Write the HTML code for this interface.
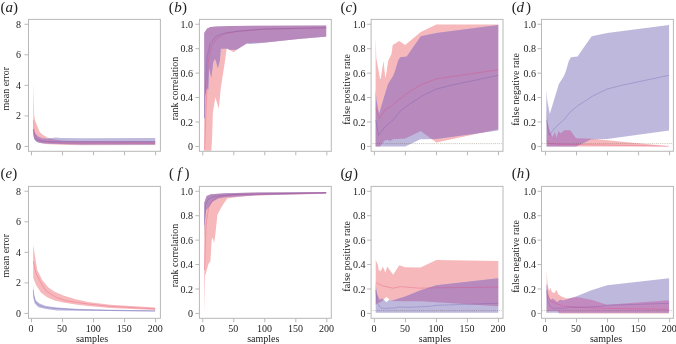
<!DOCTYPE html>
<html><head><meta charset="utf-8"><title>figure</title>
<style>
html,body{margin:0;padding:0;background:#fff;}
body{width:676px;height:344px;overflow:hidden;}
svg{display:block;}
.t{font-family:"Liberation Serif",serif;font-size:10px;fill:#222;}
.pl{font-family:"Liberation Serif",serif;font-size:15px;fill:#222;}
.it{font-style:italic;}
</style></head><body>
<svg width="676" height="344" viewBox="0 0 676 344">
<rect width="676" height="344" fill="#fff"/>
<defs>
<clipPath id="c00"><rect x="29.00" y="19.90" width="130.90" height="130.90"/></clipPath>
<clipPath id="c01"><rect x="29.00" y="186.90" width="130.90" height="130.90"/></clipPath>
<clipPath id="c10"><rect x="199.90" y="19.90" width="130.90" height="130.90"/></clipPath>
<clipPath id="c11"><rect x="199.90" y="186.90" width="130.90" height="130.90"/></clipPath>
<clipPath id="c20"><rect x="371.60" y="19.90" width="130.90" height="130.90"/></clipPath>
<clipPath id="c21"><rect x="371.60" y="186.90" width="130.90" height="130.90"/></clipPath>
<clipPath id="c30"><rect x="542.00" y="19.90" width="130.90" height="130.90"/></clipPath>
<clipPath id="c31"><rect x="542.00" y="186.90" width="130.90" height="130.90"/></clipPath>
</defs>
<g clip-path="url(#c00)">
<clipPath id="k1"><polygon points="33.40,83.00 33.90,104.00 34.20,116.00 35.20,120.70 36.80,124.80 38.50,129.00 39.75,132.00 42.70,134.80 47.70,137.75 54.30,139.40 63.50,140.70 82.00,141.00 155.20,141.00 155.20,145.10 82.00,145.20 60.00,144.80 45.00,144.00 38.00,142.50 35.00,140.00 33.30,135.00"/></clipPath>
<polygon points="33.40,83.00 33.90,104.00 34.20,116.00 35.20,120.70 36.80,124.80 38.50,129.00 39.75,132.00 42.70,134.80 47.70,137.75 54.30,139.40 63.50,140.70 82.00,141.00 155.20,141.00 155.20,145.10 82.00,145.20 60.00,144.80 45.00,144.00 38.00,142.50 35.00,140.00 33.30,135.00" fill="#f6b8ba"/>
<polygon points="33.30,128.00 35.00,133.00 38.00,136.50 42.00,138.30 47.00,138.80 52.00,138.00 56.00,137.60 60.00,137.90 82.00,138.20 155.20,138.10 155.20,144.60 82.00,144.40 50.00,143.70 40.00,143.00 36.00,141.50 34.00,139.00 33.30,130.00" fill="#bdb8dc"/>
<g clip-path="url(#k1)"><polygon points="33.30,128.00 35.00,133.00 38.00,136.50 42.00,138.30 47.00,138.80 52.00,138.00 56.00,137.60 60.00,137.90 82.00,138.20 155.20,138.10 155.20,144.60 82.00,144.40 50.00,143.70 40.00,143.00 36.00,141.50 34.00,139.00 33.30,130.00" fill="#b889bc"/></g>
<polyline points="33.30,120.00 34.50,134.00 37.00,138.50 42.00,141.00 50.00,142.30 63.00,143.00 155.20,143.20" fill="none" stroke="#e23c74" stroke-width="0.8" stroke-opacity="0.36" stroke-linejoin="round"/>
<polyline points="33.30,129.00 34.00,137.00 36.00,139.50 40.00,141.00 50.00,141.60 82.00,141.80 155.20,141.80" fill="none" stroke="#5a50aa" stroke-width="0.8" stroke-opacity="0.36" stroke-linejoin="round"/>
</g>
<g clip-path="url(#c10)">
<clipPath id="k2"><polygon points="204.20,33.00 207.10,28.40 210.40,27.00 216.20,26.60 231.10,26.10 254.00,25.75 326.20,25.40 326.20,36.50 298.60,39.10 264.40,42.50 248.30,43.20 246.70,43.40 236.70,49.70 233.75,52.20 229.20,49.70 226.70,48.70 225.80,54.70 224.85,62.00 220.80,88.00 218.75,108.80 215.40,97.20 212.90,112.00 212.00,140.00 211.25,152.00 204.20,152.00"/></clipPath>
<polygon points="204.20,33.00 207.10,28.40 210.40,27.00 216.20,26.60 231.10,26.10 254.00,25.75 326.20,25.40 326.20,36.50 298.60,39.10 264.40,42.50 248.30,43.20 246.70,43.40 236.70,49.70 233.75,52.20 229.20,49.70 226.70,48.70 225.80,54.70 224.85,62.00 220.80,88.00 218.75,108.80 215.40,97.20 212.90,112.00 212.00,140.00 211.25,152.00 204.20,152.00" fill="#f6b8ba"/>
<polygon points="204.20,33.00 207.10,28.40 210.40,27.00 216.20,26.60 231.10,26.10 254.00,25.75 326.20,25.40 326.20,36.70 298.60,39.10 264.40,42.70 250.00,44.00 246.70,43.40 236.70,49.70 229.20,49.70 227.50,48.40 220.80,48.80 220.00,58.80 219.50,62.00 217.80,68.20 216.20,62.00 215.00,58.80 213.30,62.00 211.25,78.00 209.20,68.00 208.30,90.00 207.00,88.00 205.00,96.30 204.60,118.70 204.20,118.70" fill="#bdb8dc"/>
<g clip-path="url(#k2)"><polygon points="204.20,33.00 207.10,28.40 210.40,27.00 216.20,26.60 231.10,26.10 254.00,25.75 326.20,25.40 326.20,36.70 298.60,39.10 264.40,42.70 250.00,44.00 246.70,43.40 236.70,49.70 229.20,49.70 227.50,48.40 220.80,48.80 220.00,58.80 219.50,62.00 217.80,68.20 216.20,62.00 215.00,58.80 213.30,62.00 211.25,78.00 209.20,68.00 208.30,90.00 207.00,88.00 205.00,96.30 204.60,118.70 204.20,118.70" fill="#b889bc"/></g>
<polyline points="204.60,150.00 206.00,110.00 208.20,62.00 211.50,46.00 217.10,38.00 225.40,33.60 238.20,31.40 264.40,29.20 326.20,27.80" fill="none" stroke="#e23c74" stroke-width="0.8" stroke-opacity="0.36" stroke-linejoin="round"/>
<polyline points="204.40,118.00 205.20,90.00 207.00,58.00 210.00,44.00 216.10,36.10 224.20,33.10 238.20,31.10 264.40,29.00 326.20,27.70" fill="none" stroke="#5a50aa" stroke-width="0.8" stroke-opacity="0.36" stroke-linejoin="round"/>
</g>
<g clip-path="url(#c20)">
<clipPath id="k3"><polygon points="375.60,36.70 376.30,58.00 380.10,79.00 380.70,79.00 383.50,61.10 385.40,78.50 387.00,69.00 388.20,60.70 391.50,54.00 392.70,44.90 399.30,41.10 405.10,44.90 420.80,32.10 436.30,24.60 498.30,24.60 498.30,129.30 436.30,142.50 420.75,130.90 405.30,138.50 392.50,139.20 390.60,141.10 388.00,140.00 386.00,140.00 384.00,141.00 380.00,146.40 375.60,146.40"/></clipPath>
<polygon points="375.60,36.70 376.30,58.00 380.10,79.00 380.70,79.00 383.50,61.10 385.40,78.50 387.00,69.00 388.20,60.70 391.50,54.00 392.70,44.90 399.30,41.10 405.10,44.90 420.80,32.10 436.30,24.60 498.30,24.60 498.30,129.30 436.30,142.50 420.75,130.90 405.30,138.50 392.50,139.20 390.60,141.10 388.00,140.00 386.00,140.00 384.00,141.00 380.00,146.40 375.60,146.40" fill="#f6b8ba"/>
<polygon points="375.60,90.00 376.40,100.00 379.00,114.00 384.10,97.00 385.40,92.80 388.10,84.10 393.10,76.00 394.80,72.00 398.10,60.70 400.20,57.30 406.80,56.50 412.60,48.00 420.90,36.20 436.40,33.10 498.30,25.00 498.30,130.40 436.30,138.90 420.40,139.25 405.30,146.40 375.60,146.40" fill="#bdb8dc"/>
<g clip-path="url(#k3)"><polygon points="375.60,90.00 376.40,100.00 379.00,114.00 384.10,97.00 385.40,92.80 388.10,84.10 393.10,76.00 394.80,72.00 398.10,60.70 400.20,57.30 406.80,56.50 412.60,48.00 420.90,36.20 436.40,33.10 498.30,25.00 498.30,130.40 436.30,138.90 420.40,139.25 405.30,146.40 375.60,146.40" fill="#b889bc"/></g>
<polyline points="375.80,108.50 379.50,118.50 385.30,109.30 391.20,106.40 397.00,101.00 402.80,96.80 405.30,94.50 420.30,85.00 436.40,78.80 498.30,69.80" fill="none" stroke="#e23c74" stroke-width="0.8" stroke-opacity="0.36" stroke-linejoin="round"/>
<polyline points="375.80,120.00 378.40,135.40 384.00,128.00 388.25,124.00 392.80,120.20 399.50,111.80 407.80,105.20 422.00,96.00 436.40,89.00 450.50,85.40 498.30,75.30" fill="none" stroke="#5a50aa" stroke-width="0.8" stroke-opacity="0.36" stroke-linejoin="round"/>
<line x1="371.60" y1="143.60" x2="502.50" y2="143.60" stroke="rgba(95,90,60,0.42)" stroke-width="0.9" stroke-dasharray="0.9,1.0"/>
</g>
<g clip-path="url(#c30)">
<clipPath id="k4"><polygon points="546.80,110.00 547.50,122.00 549.50,130.30 552.40,137.00 554.90,132.00 556.50,137.80 558.60,131.10 560.60,133.20 564.40,130.30 570.20,130.30 576.00,138.20 592.00,138.80 668.90,146.30 668.90,146.50 546.80,146.50"/></clipPath>
<polygon points="546.80,110.00 547.50,122.00 549.50,130.30 552.40,137.00 554.90,132.00 556.50,137.80 558.60,131.10 560.60,133.20 564.40,130.30 570.20,130.30 576.00,138.20 592.00,138.80 668.90,146.30 668.90,146.50 546.80,146.50" fill="#f6b8ba"/>
<polygon points="546.40,90.00 547.20,100.00 549.80,114.00 554.90,97.00 556.20,92.80 558.90,84.10 563.90,76.00 565.60,72.00 568.90,60.70 571.00,57.30 577.60,56.50 583.40,48.00 591.70,36.20 607.20,33.10 669.10,25.00 669.10,130.40 607.10,138.90 591.20,139.25 576.10,146.40 546.40,146.40" fill="#bdb8dc"/>
<g clip-path="url(#k4)"><polygon points="546.40,90.00 547.20,100.00 549.80,114.00 554.90,97.00 556.20,92.80 558.90,84.10 563.90,76.00 565.60,72.00 568.90,60.70 571.00,57.30 577.60,56.50 583.40,48.00 591.70,36.20 607.20,33.10 669.10,25.00 669.10,130.40 607.10,138.90 591.20,139.25 576.10,146.40 546.40,146.40" fill="#c088bc"/></g>
<polyline points="546.80,140.00 548.50,143.50 560.00,144.30 592.00,144.80 668.90,146.20" fill="none" stroke="#e23c74" stroke-width="0.8" stroke-opacity="0.36" stroke-linejoin="round"/>
<polyline points="546.60,120.00 549.20,135.40 554.80,128.00 559.05,124.00 563.60,120.20 570.30,111.80 578.60,105.20 592.80,96.00 607.20,89.00 621.30,85.40 669.10,75.30" fill="none" stroke="#5a50aa" stroke-width="0.8" stroke-opacity="0.36" stroke-linejoin="round"/>
<line x1="542.00" y1="143.60" x2="672.90" y2="143.60" stroke="rgba(95,90,60,0.42)" stroke-width="0.9" stroke-dasharray="0.9,1.0"/>
</g>
<g clip-path="url(#c01)">
<clipPath id="k5"><polygon points="33.20,245.00 36.00,262.20 37.20,270.00 42.20,280.00 48.40,287.40 54.60,291.70 63.30,295.50 75.70,299.20 88.10,301.90 110.00,304.80 155.20,307.60 155.20,310.10 110.00,307.90 88.10,306.00 75.70,304.50 63.30,302.50 54.60,300.40 47.10,297.30 40.90,292.40 36.00,285.00 33.20,277.50"/></clipPath>
<polygon points="33.20,245.00 36.00,262.20 37.20,270.00 42.20,280.00 48.40,287.40 54.60,291.70 63.30,295.50 75.70,299.20 88.10,301.90 110.00,304.80 155.20,307.60 155.20,310.10 110.00,307.90 88.10,306.00 75.70,304.50 63.30,302.50 54.60,300.40 47.10,297.30 40.90,292.40 36.00,285.00 33.20,277.50" fill="#f6b8ba"/>
<polygon points="33.20,284.50 34.10,295.00 35.90,300.40 39.70,303.50 45.90,306.00 57.10,307.60 75.70,308.80 110.00,309.80 155.20,310.30 155.20,311.60 110.00,311.10 57.10,310.40 45.90,309.10 38.40,307.30 34.70,303.60 33.20,296.70" fill="#bdb8dc"/>
<g clip-path="url(#k5)"><polygon points="33.20,284.50 34.10,295.00 35.90,300.40 39.70,303.50 45.90,306.00 57.10,307.60 75.70,308.80 110.00,309.80 155.20,310.30 155.20,311.60 110.00,311.10 57.10,310.40 45.90,309.10 38.40,307.30 34.70,303.60 33.20,296.70" fill="#b889bc"/></g>
<polyline points="33.20,261.20 36.00,273.20 41.10,283.30 46.10,291.00 56.20,297.40 66.20,300.80 88.00,304.00 110.00,306.30 155.20,308.80" fill="none" stroke="#e23c74" stroke-width="0.8" stroke-opacity="0.36" stroke-linejoin="round"/>
<polyline points="33.20,290.00 34.40,299.50 37.00,304.00 42.00,306.50 50.00,308.00 75.00,309.70 110.00,310.50 155.20,311.00" fill="none" stroke="#5a50aa" stroke-width="0.8" stroke-opacity="0.36" stroke-linejoin="round"/>
</g>
<g clip-path="url(#c11)">
<clipPath id="k6"><polygon points="204.30,202.60 206.60,196.00 210.80,194.30 224.90,193.30 256.00,192.60 326.20,192.00 326.20,193.70 256.00,195.60 237.30,197.00 227.30,198.50 223.20,204.20 219.90,210.00 217.40,215.00 215.40,234.00 214.10,243.30 212.70,237.70 211.70,240.00 210.40,261.30 208.60,263.80 205.00,276.00 204.20,313.30"/></clipPath>
<polygon points="204.30,202.60 206.60,196.00 210.80,194.30 224.90,193.30 256.00,192.60 326.20,192.00 326.20,193.70 256.00,195.60 237.30,197.00 227.30,198.50 223.20,204.20 219.90,210.00 217.40,215.00 215.40,234.00 214.10,243.30 212.70,237.70 211.70,240.00 210.40,261.30 208.60,263.80 205.00,276.00 204.20,313.30" fill="#f6b8ba"/>
<polygon points="204.30,202.60 206.60,196.00 210.80,194.30 224.90,193.30 256.00,192.60 326.20,192.00 326.20,193.60 256.00,195.30 237.30,196.40 224.90,197.25 218.20,198.50 212.40,201.80 208.30,207.70 206.20,210.00 204.70,221.00 204.30,238.00" fill="#bdb8dc"/>
<g clip-path="url(#k6)"><polygon points="204.30,202.60 206.60,196.00 210.80,194.30 224.90,193.30 256.00,192.60 326.20,192.00 326.20,193.60 256.00,195.30 237.30,196.40 224.90,197.25 218.20,198.50 212.40,201.80 208.30,207.70 206.20,210.00 204.70,221.00 204.30,238.00" fill="#b889bc"/></g>
<polyline points="204.50,270.00 206.00,225.00 208.50,208.00 212.00,201.00 218.00,197.00 228.00,195.30 240.00,194.50 326.20,192.90" fill="none" stroke="#e23c74" stroke-width="0.8" stroke-opacity="0.36" stroke-linejoin="round"/>
<polyline points="204.40,225.00 205.50,205.00 208.00,199.50 212.00,197.00 220.00,195.50 240.00,194.30 326.20,192.80" fill="none" stroke="#5a50aa" stroke-width="0.8" stroke-opacity="0.36" stroke-linejoin="round"/>
</g>
<g clip-path="url(#c21)">
<clipPath id="k7"><polygon points="375.70,260.00 377.80,264.40 379.00,271.80 379.90,269.30 380.70,271.40 382.80,266.40 385.30,272.60 387.30,266.40 393.10,274.70 399.30,265.20 405.10,267.25 420.50,267.40 436.40,260.00 498.30,261.00 498.30,306.30 436.40,302.30 420.80,301.30 405.10,301.30 392.70,301.00 389.40,299.60 386.50,296.80 383.70,299.60 381.00,302.00 378.00,303.00 375.70,305.00"/></clipPath>
<polygon points="375.70,260.00 377.80,264.40 379.00,271.80 379.90,269.30 380.70,271.40 382.80,266.40 385.30,272.60 387.30,266.40 393.10,274.70 399.30,265.20 405.10,267.25 420.50,267.40 436.40,260.00 498.30,261.00 498.30,306.30 436.40,302.30 420.80,301.30 405.10,301.30 392.70,301.00 389.40,299.60 386.50,296.80 383.70,299.60 381.00,302.00 378.00,303.00 375.70,305.00" fill="#f6b8ba"/>
<polygon points="375.70,282.00 376.30,290.00 377.20,294.50 379.80,300.00 381.50,298.50 383.70,299.80 386.50,302.30 389.20,299.80 392.50,300.50 405.20,296.40 420.60,290.20 436.30,285.20 498.30,278.20 498.30,312.80 375.70,312.80" fill="#bdb8dc"/>
<g clip-path="url(#k7)"><polygon points="375.70,282.00 376.30,290.00 377.20,294.50 379.80,300.00 381.50,298.50 383.70,299.80 386.50,302.30 389.20,299.80 392.50,300.50 405.20,296.40 420.60,290.20 436.30,285.20 498.30,278.20 498.30,312.80 375.70,312.80" fill="#b889bc"/></g>
<polyline points="375.70,282.20 378.00,283.80 384.10,286.20 393.10,288.20 400.20,286.60 420.00,288.20 436.40,287.80 498.30,287.20" fill="none" stroke="#e23c74" stroke-width="0.8" stroke-opacity="0.36" stroke-linejoin="round"/>
<polyline points="375.70,290.00 377.00,301.80 379.50,306.80 382.80,308.40 396.00,308.00 396.90,307.10 410.20,307.30 430.40,306.30 436.40,305.30 498.30,303.30" fill="none" stroke="#5a50aa" stroke-width="0.8" stroke-opacity="0.36" stroke-linejoin="round"/>
<line x1="371.60" y1="310.60" x2="502.50" y2="310.60" stroke="rgba(95,90,60,0.42)" stroke-width="0.9" stroke-dasharray="0.9,1.0"/>
</g>
<g clip-path="url(#c31)">
<clipPath id="k8"><polygon points="546.70,270.00 547.50,284.00 549.00,291.00 550.30,287.70 552.00,292.25 554.40,293.00 556.50,289.75 558.20,294.30 561.90,296.80 566.90,298.50 576.80,297.00 592.30,299.90 606.80,304.70 668.90,300.30 668.90,313.50 559.00,313.50 557.80,311.00 547.80,311.00 546.70,313.50"/></clipPath>
<polygon points="546.70,270.00 547.50,284.00 549.00,291.00 550.30,287.70 552.00,292.25 554.40,293.00 556.50,289.75 558.20,294.30 561.90,296.80 566.90,298.50 576.80,297.00 592.30,299.90 606.80,304.70 668.90,300.30 668.90,313.50 559.00,313.50 557.80,311.00 547.80,311.00 546.70,313.50" fill="#f6b8ba"/>
<polygon points="546.50,282.00 547.10,290.00 548.00,294.50 550.60,300.00 552.30,298.50 554.50,299.80 557.30,302.30 560.00,299.80 563.30,300.50 576.00,296.40 591.40,290.20 607.10,285.20 669.10,278.20 669.10,312.80 546.50,312.80" fill="#bdb8dc"/>
<g clip-path="url(#k8)"><polygon points="546.50,282.00 547.10,290.00 548.00,294.50 550.60,300.00 552.30,298.50 554.50,299.80 557.30,302.30 560.00,299.80 563.30,300.50 576.00,296.40 591.40,290.20 607.10,285.20 669.10,278.20 669.10,312.80 546.50,312.80" fill="#c38abf"/></g>
<polyline points="546.80,285.00 548.20,296.00 550.30,301.00 553.60,302.25 557.00,303.90 562.70,306.00 575.00,307.25 598.00,308.00 606.40,308.30 668.90,309.30" fill="none" stroke="#e23c74" stroke-width="0.8" stroke-opacity="0.36" stroke-linejoin="round"/>
<polyline points="546.50,290.00 547.80,301.80 550.30,306.80 553.60,308.40 566.80,308.00 567.70,307.10 581.00,307.30 601.20,306.30 607.20,305.30 669.10,303.30" fill="none" stroke="#5a50aa" stroke-width="0.8" stroke-opacity="0.36" stroke-linejoin="round"/>
<line x1="542.00" y1="310.60" x2="672.90" y2="310.60" stroke="rgba(95,90,60,0.42)" stroke-width="0.9" stroke-dasharray="0.9,1.0"/>
</g>
<rect x="28.50" y="19.40" width="131.90" height="131.90" fill="none" stroke="#b8b8b8" stroke-width="1"/>
<line x1="31.50" y1="151.30" x2="31.50" y2="155.30" stroke="#b8b8b8" stroke-width="1"/>
<line x1="62.52" y1="151.30" x2="62.52" y2="155.30" stroke="#b8b8b8" stroke-width="1"/>
<line x1="93.54" y1="151.30" x2="93.54" y2="155.30" stroke="#b8b8b8" stroke-width="1"/>
<line x1="124.56" y1="151.30" x2="124.56" y2="155.30" stroke="#b8b8b8" stroke-width="1"/>
<line x1="155.58" y1="151.30" x2="155.58" y2="155.30" stroke="#b8b8b8" stroke-width="1"/>
<line x1="24.50" y1="146.41" x2="28.50" y2="146.41" stroke="#b8b8b8" stroke-width="1"/>
<text x="21.10" y="150.01" text-anchor="end" class="t">0</text>
<line x1="24.50" y1="115.88" x2="28.50" y2="115.88" stroke="#b8b8b8" stroke-width="1"/>
<text x="21.10" y="119.48" text-anchor="end" class="t">2</text>
<line x1="24.50" y1="85.35" x2="28.50" y2="85.35" stroke="#b8b8b8" stroke-width="1"/>
<text x="21.10" y="88.95" text-anchor="end" class="t">4</text>
<line x1="24.50" y1="54.81" x2="28.50" y2="54.81" stroke="#b8b8b8" stroke-width="1"/>
<text x="21.10" y="58.41" text-anchor="end" class="t">6</text>
<line x1="24.50" y1="24.28" x2="28.50" y2="24.28" stroke="#b8b8b8" stroke-width="1"/>
<text x="21.10" y="27.88" text-anchor="end" class="t">8</text>
<text transform="translate(9.00,88.70) rotate(-90)" text-anchor="middle" class="t">mean error</text>
<text x="0.58" y="11.60" class="pl">(</text>
<text x="9.25" y="11.60" class="pl it" text-anchor="middle">a</text>
<text x="12.90" y="11.60" class="pl">)</text>
<rect x="199.40" y="19.40" width="131.90" height="131.90" fill="none" stroke="#b8b8b8" stroke-width="1"/>
<line x1="202.75" y1="151.30" x2="202.75" y2="155.30" stroke="#b8b8b8" stroke-width="1"/>
<line x1="233.77" y1="151.30" x2="233.77" y2="155.30" stroke="#b8b8b8" stroke-width="1"/>
<line x1="264.79" y1="151.30" x2="264.79" y2="155.30" stroke="#b8b8b8" stroke-width="1"/>
<line x1="295.81" y1="151.30" x2="295.81" y2="155.30" stroke="#b8b8b8" stroke-width="1"/>
<line x1="326.83" y1="151.30" x2="326.83" y2="155.30" stroke="#b8b8b8" stroke-width="1"/>
<line x1="195.40" y1="146.41" x2="199.40" y2="146.41" stroke="#b8b8b8" stroke-width="1"/>
<text x="193.00" y="150.01" text-anchor="end" class="t">0</text>
<line x1="195.40" y1="121.98" x2="199.40" y2="121.98" stroke="#b8b8b8" stroke-width="1"/>
<text x="193.00" y="125.58" text-anchor="end" class="t">0.2</text>
<line x1="195.40" y1="97.56" x2="199.40" y2="97.56" stroke="#b8b8b8" stroke-width="1"/>
<text x="193.00" y="101.16" text-anchor="end" class="t">0.4</text>
<line x1="195.40" y1="73.13" x2="199.40" y2="73.13" stroke="#b8b8b8" stroke-width="1"/>
<text x="193.00" y="76.73" text-anchor="end" class="t">0.6</text>
<line x1="195.40" y1="48.71" x2="199.40" y2="48.71" stroke="#b8b8b8" stroke-width="1"/>
<text x="193.00" y="52.31" text-anchor="end" class="t">0.8</text>
<line x1="195.40" y1="24.28" x2="199.40" y2="24.28" stroke="#b8b8b8" stroke-width="1"/>
<text x="193.00" y="27.88" text-anchor="end" class="t">1.0</text>
<text transform="translate(178.20,88.50) rotate(-90)" text-anchor="middle" class="t">rank correlation</text>
<text x="168.83" y="11.60" class="pl">(</text>
<text x="177.88" y="11.60" class="pl it" text-anchor="middle">b</text>
<text x="181.90" y="11.60" class="pl">)</text>
<rect x="371.10" y="19.40" width="131.90" height="131.90" fill="none" stroke="#b8b8b8" stroke-width="1"/>
<line x1="374.40" y1="151.30" x2="374.40" y2="155.30" stroke="#b8b8b8" stroke-width="1"/>
<line x1="405.42" y1="151.30" x2="405.42" y2="155.30" stroke="#b8b8b8" stroke-width="1"/>
<line x1="436.44" y1="151.30" x2="436.44" y2="155.30" stroke="#b8b8b8" stroke-width="1"/>
<line x1="467.46" y1="151.30" x2="467.46" y2="155.30" stroke="#b8b8b8" stroke-width="1"/>
<line x1="498.48" y1="151.30" x2="498.48" y2="155.30" stroke="#b8b8b8" stroke-width="1"/>
<line x1="367.10" y1="146.41" x2="371.10" y2="146.41" stroke="#b8b8b8" stroke-width="1"/>
<text x="365.40" y="150.01" text-anchor="end" class="t">0</text>
<line x1="367.10" y1="121.98" x2="371.10" y2="121.98" stroke="#b8b8b8" stroke-width="1"/>
<text x="365.40" y="125.58" text-anchor="end" class="t">0.2</text>
<line x1="367.10" y1="97.56" x2="371.10" y2="97.56" stroke="#b8b8b8" stroke-width="1"/>
<text x="365.40" y="101.16" text-anchor="end" class="t">0.4</text>
<line x1="367.10" y1="73.13" x2="371.10" y2="73.13" stroke="#b8b8b8" stroke-width="1"/>
<text x="365.40" y="76.73" text-anchor="end" class="t">0.6</text>
<line x1="367.10" y1="48.71" x2="371.10" y2="48.71" stroke="#b8b8b8" stroke-width="1"/>
<text x="365.40" y="52.31" text-anchor="end" class="t">0.8</text>
<line x1="367.10" y1="24.28" x2="371.10" y2="24.28" stroke="#b8b8b8" stroke-width="1"/>
<text x="365.40" y="27.88" text-anchor="end" class="t">1.0</text>
<text transform="translate(349.50,89.40) rotate(-90)" text-anchor="middle" class="t">false positive rate</text>
<text x="340.58" y="11.60" class="pl">(</text>
<text x="348.80" y="11.60" class="pl it" text-anchor="middle">c</text>
<text x="352.00" y="11.60" class="pl">)</text>
<rect x="541.50" y="19.40" width="131.90" height="131.90" fill="none" stroke="#b8b8b8" stroke-width="1"/>
<line x1="545.50" y1="151.30" x2="545.50" y2="155.30" stroke="#b8b8b8" stroke-width="1"/>
<line x1="576.52" y1="151.30" x2="576.52" y2="155.30" stroke="#b8b8b8" stroke-width="1"/>
<line x1="607.54" y1="151.30" x2="607.54" y2="155.30" stroke="#b8b8b8" stroke-width="1"/>
<line x1="638.56" y1="151.30" x2="638.56" y2="155.30" stroke="#b8b8b8" stroke-width="1"/>
<line x1="669.58" y1="151.30" x2="669.58" y2="155.30" stroke="#b8b8b8" stroke-width="1"/>
<line x1="537.50" y1="146.41" x2="541.50" y2="146.41" stroke="#b8b8b8" stroke-width="1"/>
<text x="536.10" y="150.01" text-anchor="end" class="t">0</text>
<line x1="537.50" y1="121.98" x2="541.50" y2="121.98" stroke="#b8b8b8" stroke-width="1"/>
<text x="536.10" y="125.58" text-anchor="end" class="t">0.2</text>
<line x1="537.50" y1="97.56" x2="541.50" y2="97.56" stroke="#b8b8b8" stroke-width="1"/>
<text x="536.10" y="101.16" text-anchor="end" class="t">0.4</text>
<line x1="537.50" y1="73.13" x2="541.50" y2="73.13" stroke="#b8b8b8" stroke-width="1"/>
<text x="536.10" y="76.73" text-anchor="end" class="t">0.6</text>
<line x1="537.50" y1="48.71" x2="541.50" y2="48.71" stroke="#b8b8b8" stroke-width="1"/>
<text x="536.10" y="52.31" text-anchor="end" class="t">0.8</text>
<line x1="537.50" y1="24.28" x2="541.50" y2="24.28" stroke="#b8b8b8" stroke-width="1"/>
<text x="536.10" y="27.88" text-anchor="end" class="t">1.0</text>
<text transform="translate(519.30,89.40) rotate(-90)" text-anchor="middle" class="t">false negative rate</text>
<text x="511.68" y="11.60" class="pl">(</text>
<text x="520.30" y="11.60" class="pl it" text-anchor="middle">d</text>
<text x="525.90" y="11.60" class="pl">)</text>
<rect x="28.50" y="186.40" width="131.90" height="131.90" fill="none" stroke="#b8b8b8" stroke-width="1"/>
<line x1="31.50" y1="318.30" x2="31.50" y2="322.30" stroke="#b8b8b8" stroke-width="1"/>
<text x="31.10" y="331.50" text-anchor="middle" class="t">0</text>
<line x1="62.52" y1="318.30" x2="62.52" y2="322.30" stroke="#b8b8b8" stroke-width="1"/>
<text x="62.12" y="331.50" text-anchor="middle" class="t">50</text>
<line x1="93.54" y1="318.30" x2="93.54" y2="322.30" stroke="#b8b8b8" stroke-width="1"/>
<text x="93.14" y="331.50" text-anchor="middle" class="t">100</text>
<line x1="124.56" y1="318.30" x2="124.56" y2="322.30" stroke="#b8b8b8" stroke-width="1"/>
<text x="124.16" y="331.50" text-anchor="middle" class="t">150</text>
<line x1="155.58" y1="318.30" x2="155.58" y2="322.30" stroke="#b8b8b8" stroke-width="1"/>
<text x="155.18" y="331.50" text-anchor="middle" class="t">200</text>
<text x="92.00" y="341.50" text-anchor="middle" class="t">samples</text>
<line x1="24.50" y1="313.41" x2="28.50" y2="313.41" stroke="#b8b8b8" stroke-width="1"/>
<text x="21.10" y="317.01" text-anchor="end" class="t">0</text>
<line x1="24.50" y1="282.88" x2="28.50" y2="282.88" stroke="#b8b8b8" stroke-width="1"/>
<text x="21.10" y="286.48" text-anchor="end" class="t">2</text>
<line x1="24.50" y1="252.35" x2="28.50" y2="252.35" stroke="#b8b8b8" stroke-width="1"/>
<text x="21.10" y="255.95" text-anchor="end" class="t">4</text>
<line x1="24.50" y1="221.81" x2="28.50" y2="221.81" stroke="#b8b8b8" stroke-width="1"/>
<text x="21.10" y="225.41" text-anchor="end" class="t">6</text>
<line x1="24.50" y1="191.28" x2="28.50" y2="191.28" stroke="#b8b8b8" stroke-width="1"/>
<text x="21.10" y="194.88" text-anchor="end" class="t">8</text>
<text transform="translate(9.00,255.70) rotate(-90)" text-anchor="middle" class="t">mean error</text>
<text x="0.51" y="178.30" class="pl">(</text>
<text x="8.87" y="178.30" class="pl it" text-anchor="middle">e</text>
<text x="12.20" y="178.30" class="pl">)</text>
<rect x="199.40" y="186.40" width="131.90" height="131.90" fill="none" stroke="#b8b8b8" stroke-width="1"/>
<line x1="202.75" y1="318.30" x2="202.75" y2="322.30" stroke="#b8b8b8" stroke-width="1"/>
<text x="202.35" y="331.50" text-anchor="middle" class="t">0</text>
<line x1="233.77" y1="318.30" x2="233.77" y2="322.30" stroke="#b8b8b8" stroke-width="1"/>
<text x="233.37" y="331.50" text-anchor="middle" class="t">50</text>
<line x1="264.79" y1="318.30" x2="264.79" y2="322.30" stroke="#b8b8b8" stroke-width="1"/>
<text x="264.39" y="331.50" text-anchor="middle" class="t">100</text>
<line x1="295.81" y1="318.30" x2="295.81" y2="322.30" stroke="#b8b8b8" stroke-width="1"/>
<text x="295.41" y="331.50" text-anchor="middle" class="t">150</text>
<line x1="326.83" y1="318.30" x2="326.83" y2="322.30" stroke="#b8b8b8" stroke-width="1"/>
<text x="326.43" y="331.50" text-anchor="middle" class="t">200</text>
<text x="263.25" y="341.50" text-anchor="middle" class="t">samples</text>
<line x1="195.40" y1="313.41" x2="199.40" y2="313.41" stroke="#b8b8b8" stroke-width="1"/>
<text x="193.00" y="317.01" text-anchor="end" class="t">0</text>
<line x1="195.40" y1="288.98" x2="199.40" y2="288.98" stroke="#b8b8b8" stroke-width="1"/>
<text x="193.00" y="292.58" text-anchor="end" class="t">0.2</text>
<line x1="195.40" y1="264.56" x2="199.40" y2="264.56" stroke="#b8b8b8" stroke-width="1"/>
<text x="193.00" y="268.16" text-anchor="end" class="t">0.4</text>
<line x1="195.40" y1="240.13" x2="199.40" y2="240.13" stroke="#b8b8b8" stroke-width="1"/>
<text x="193.00" y="243.73" text-anchor="end" class="t">0.6</text>
<line x1="195.40" y1="215.71" x2="199.40" y2="215.71" stroke="#b8b8b8" stroke-width="1"/>
<text x="193.00" y="219.31" text-anchor="end" class="t">0.8</text>
<line x1="195.40" y1="191.28" x2="199.40" y2="191.28" stroke="#b8b8b8" stroke-width="1"/>
<text x="193.00" y="194.88" text-anchor="end" class="t">1.0</text>
<text transform="translate(178.20,255.50) rotate(-90)" text-anchor="middle" class="t">rank correlation</text>
<text x="169.08" y="178.30" class="pl">(</text>
<text x="179.25" y="178.30" class="pl it" text-anchor="middle">f</text>
<text x="184.40" y="178.30" class="pl">)</text>
<rect x="371.10" y="186.40" width="131.90" height="131.90" fill="none" stroke="#b8b8b8" stroke-width="1"/>
<line x1="374.40" y1="318.30" x2="374.40" y2="322.30" stroke="#b8b8b8" stroke-width="1"/>
<text x="374.00" y="331.50" text-anchor="middle" class="t">0</text>
<line x1="405.42" y1="318.30" x2="405.42" y2="322.30" stroke="#b8b8b8" stroke-width="1"/>
<text x="405.02" y="331.50" text-anchor="middle" class="t">50</text>
<line x1="436.44" y1="318.30" x2="436.44" y2="322.30" stroke="#b8b8b8" stroke-width="1"/>
<text x="436.04" y="331.50" text-anchor="middle" class="t">100</text>
<line x1="467.46" y1="318.30" x2="467.46" y2="322.30" stroke="#b8b8b8" stroke-width="1"/>
<text x="467.06" y="331.50" text-anchor="middle" class="t">150</text>
<line x1="498.48" y1="318.30" x2="498.48" y2="322.30" stroke="#b8b8b8" stroke-width="1"/>
<text x="498.08" y="331.50" text-anchor="middle" class="t">200</text>
<text x="434.90" y="341.50" text-anchor="middle" class="t">samples</text>
<line x1="367.10" y1="313.41" x2="371.10" y2="313.41" stroke="#b8b8b8" stroke-width="1"/>
<text x="365.40" y="317.01" text-anchor="end" class="t">0</text>
<line x1="367.10" y1="288.98" x2="371.10" y2="288.98" stroke="#b8b8b8" stroke-width="1"/>
<text x="365.40" y="292.58" text-anchor="end" class="t">0.2</text>
<line x1="367.10" y1="264.56" x2="371.10" y2="264.56" stroke="#b8b8b8" stroke-width="1"/>
<text x="365.40" y="268.16" text-anchor="end" class="t">0.4</text>
<line x1="367.10" y1="240.13" x2="371.10" y2="240.13" stroke="#b8b8b8" stroke-width="1"/>
<text x="365.40" y="243.73" text-anchor="end" class="t">0.6</text>
<line x1="367.10" y1="215.71" x2="371.10" y2="215.71" stroke="#b8b8b8" stroke-width="1"/>
<text x="365.40" y="219.31" text-anchor="end" class="t">0.8</text>
<line x1="367.10" y1="191.28" x2="371.10" y2="191.28" stroke="#b8b8b8" stroke-width="1"/>
<text x="365.40" y="194.88" text-anchor="end" class="t">1.0</text>
<text transform="translate(349.50,256.40) rotate(-90)" text-anchor="middle" class="t">false positive rate</text>
<text x="340.58" y="178.30" class="pl">(</text>
<text x="348.75" y="178.30" class="pl it" text-anchor="middle">g</text>
<text x="352.90" y="178.30" class="pl">)</text>
<rect x="541.50" y="186.40" width="131.90" height="131.90" fill="none" stroke="#b8b8b8" stroke-width="1"/>
<line x1="545.50" y1="318.30" x2="545.50" y2="322.30" stroke="#b8b8b8" stroke-width="1"/>
<text x="545.10" y="331.50" text-anchor="middle" class="t">0</text>
<line x1="576.52" y1="318.30" x2="576.52" y2="322.30" stroke="#b8b8b8" stroke-width="1"/>
<text x="576.12" y="331.50" text-anchor="middle" class="t">50</text>
<line x1="607.54" y1="318.30" x2="607.54" y2="322.30" stroke="#b8b8b8" stroke-width="1"/>
<text x="607.14" y="331.50" text-anchor="middle" class="t">100</text>
<line x1="638.56" y1="318.30" x2="638.56" y2="322.30" stroke="#b8b8b8" stroke-width="1"/>
<text x="638.16" y="331.50" text-anchor="middle" class="t">150</text>
<line x1="669.58" y1="318.30" x2="669.58" y2="322.30" stroke="#b8b8b8" stroke-width="1"/>
<text x="669.18" y="331.50" text-anchor="middle" class="t">200</text>
<text x="606.00" y="341.50" text-anchor="middle" class="t">samples</text>
<line x1="537.50" y1="313.41" x2="541.50" y2="313.41" stroke="#b8b8b8" stroke-width="1"/>
<text x="536.10" y="317.01" text-anchor="end" class="t">0</text>
<line x1="537.50" y1="288.98" x2="541.50" y2="288.98" stroke="#b8b8b8" stroke-width="1"/>
<text x="536.10" y="292.58" text-anchor="end" class="t">0.2</text>
<line x1="537.50" y1="264.56" x2="541.50" y2="264.56" stroke="#b8b8b8" stroke-width="1"/>
<text x="536.10" y="268.16" text-anchor="end" class="t">0.4</text>
<line x1="537.50" y1="240.13" x2="541.50" y2="240.13" stroke="#b8b8b8" stroke-width="1"/>
<text x="536.10" y="243.73" text-anchor="end" class="t">0.6</text>
<line x1="537.50" y1="215.71" x2="541.50" y2="215.71" stroke="#b8b8b8" stroke-width="1"/>
<text x="536.10" y="219.31" text-anchor="end" class="t">0.8</text>
<line x1="537.50" y1="191.28" x2="541.50" y2="191.28" stroke="#b8b8b8" stroke-width="1"/>
<text x="536.10" y="194.88" text-anchor="end" class="t">1.0</text>
<text transform="translate(519.30,256.40) rotate(-90)" text-anchor="middle" class="t">false negative rate</text>
<text x="511.68" y="178.30" class="pl">(</text>
<text x="520.55" y="178.30" class="pl it" text-anchor="middle">h</text>
<text x="525.00" y="178.30" class="pl">)</text>
</svg>
</body></html>
